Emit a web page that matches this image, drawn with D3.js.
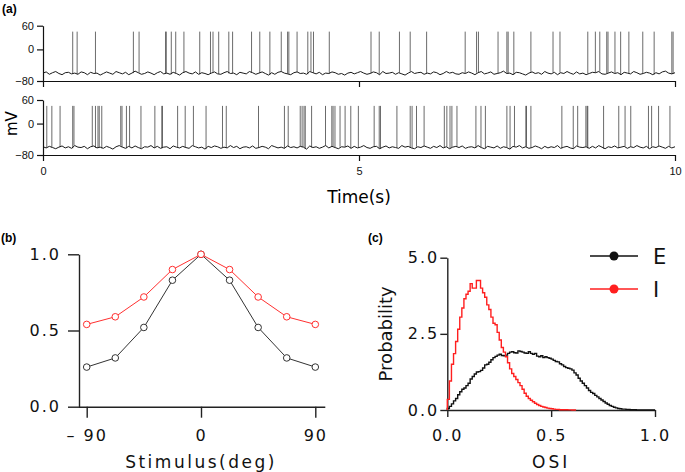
<!DOCTYPE html>
<html><head><meta charset="utf-8">
<script src="https://cdn.jsdelivr.net/npm/d3@7/dist/d3.min.js"></script>
<style>
body{margin:0;background:#fff;}
svg{display:block;}
</style></head>
<body><svg id="chart" width="685" height="472"></svg>
<script>
// ---------- DATA ----------
// Panel (a): spike times (s) and sub-threshold membrane voltage samples (mV)
const traceDuration = 10;
const spikePeak = 45;
const spikeTimesTop = [0.47,0.54,0.83,1.43,1.52,1.94,1.95,2.03,2.10,2.23,2.48,2.65,2.69,2.78,2.94,3.00,3.30,3.43,3.59,3.77,3.87,3.89,4.02,4.19,4.24,4.28,4.53,5.19,5.32,5.64,5.81,6.07,6.68,6.86,6.89,7.20,7.34,7.36,7.45,7.72,8.07,8.18,8.62,8.74,8.81,8.92,8.94,9.05,9.14,9.27,9.49,9.67,9.95,9.97];
const spikeTimesBottom = [0.06,0.14,0.27,0.47,0.49,0.78,0.83,0.87,0.89,0.93,1.23,1.25,1.32,1.37,1.55,1.77,1.88,1.89,2.13,2.25,2.38,2.58,2.84,2.90,3.41,3.82,3.88,4.07,4.10,4.13,4.15,4.25,4.47,4.57,4.59,4.62,4.70,4.78,4.87,4.99,5.24,5.32,5.34,5.60,5.81,5.84,5.91,6.03,6.35,6.39,6.44,6.47,6.55,6.85,6.93,7.00,7.34,7.39,7.46,7.64,7.65,7.72,8.21,8.39,8.46,8.59,8.61,8.62,8.87,9.11,9.21,9.30,9.58,9.63,9.74,9.92];
const vmTop = [-60,-57,-63,-59,-56,-61,-64,-59,-58,-62,-60,-63,-57,-59,-64,-58,-61,-60,-65,-61,
-57,-60,-63,-56,-59,-62,-58,-64,-60,-55,-59,-63,-61,-57,-60,-64,-59,-56,-62,-60,
-63,-58,-61,-65,-59,-56,-60,-62,-57,-63,-59,-61,-64,-60,-57,-62,-63,-59,-56,-61,
-60,-64,-58,-60,-62,-56,-59,-63,-60,-57,-61,-65,-59,-63,-58,-56,-60,-62,-64,-59,
-57,-61,-60,-63,-56,-59,-62,-58,-64,-60,-61,-57,-59,-63,-61,-65,-60,-58,-62,-59,
-56,-60,-63,-61,-57,-59,-64,-56,-61,-60,-58,-63,-59,-62,-65,-60,-56,-61,-59,-58,
-63,-60,-62,-57,-59,-64,-61,-56,-60,-58,-62,-63,-59,-61,-57,-60,-64,-59,-56,-62,
-60,-57,-63,-61,-59,-55,-61,-60,-64,-58,-59,-62,-65,-60,-57,-61,-59,-63,-56,-60,
-62,-58,-64,-59,-61,-56,-60,-63,-57,-62,-60,-64,-61,-58,-59,-56,-62,-63,-60,-57,
-61,-59,-64,-58,-60,-62,-56,-59,-63,-61,-58,-60,-64,-59,-62,-57,-55,-60,-62,-59];
const vmBottom = [-59,-62,-58,-61,-64,-60,-57,-62,-59,-63,-56,-60,-61,-58,-64,-59,-57,-62,-60,-63,
-58,-61,-65,-59,-56,-60,-63,-58,-62,-57,-61,-64,-59,-60,-56,-62,-58,-63,-60,-59,
-64,-57,-60,-62,-58,-61,-63,-56,-59,-62,-60,-65,-58,-61,-57,-59,-63,-60,-62,-56,
-61,-58,-64,-60,-59,-62,-57,-63,-61,-58,-60,-64,-56,-59,-62,-60,-63,-57,-61,-59,
-62,-58,-60,-65,-57,-61,-59,-63,-60,-56,-62,-58,-61,-64,-59,-60,-57,-63,-58,-62,
-60,-56,-61,-63,-59,-58,-64,-60,-57,-62,-59,-61,-63,-56,-60,-58,-62,-64,-59,-61,
-57,-60,-63,-58,-61,-56,-62,-59,-64,-60,-58,-61,-57,-63,-60,-59,-62,-56,-61,-64,
-58,-60,-62,-57,-63,-59,-61,-65,-58,-60,-56,-62,-59,-63,-61,-57,-60,-64,-58,-62,
-59,-61,-56,-63,-60,-58,-62,-64,-57,-60,-61,-59,-63,-58,-62,-56,-60,-64,-59,-61,
-57,-62,-60,-58,-63,-59,-61,-56,-60,-62,-58,-64,-59,-61,-57,-60,-63,-58,-62,-59];
const vmTicks = [-80, 0, 60];
const timeTicks = [0, 5, 10];

// Panel (b): tuning curves
const stimulus = [-90,-67.5,-45,-22.5,0,22.5,45,67.5,90];
const tuningE = [0.26,0.32,0.52,0.83,1.0,0.83,0.52,0.32,0.26];
const tuningI = [0.54,0.59,0.72,0.90,1.0,0.90,0.72,0.59,0.54];
const stimTicks = [-90, 0, 90];
const respTicks = [0, 0.5, 1.0];

// Panel (c): OSI histograms (bin width 0.01, starting at 0)
const osiBinWidth = 0.01;
const osiE = [0.05,0.12,0.2,0.3,0.38,0.5,0.6,0.68,0.72,0.8,
0.88,1.02,1.1,1.18,1.25,1.26,1.3,1.38,1.48,1.5,
1.57,1.65,1.72,1.76,1.8,1.83,1.79,1.78,1.8,1.86,
1.9,1.91,1.88,1.87,1.94,1.92,1.9,1.87,1.86,1.91,
1.86,1.83,1.86,1.77,1.75,1.78,1.72,1.75,1.72,1.7,
1.67,1.63,1.59,1.58,1.52,1.48,1.43,1.39,1.37,1.35,
1.31,1.22,1.15,1.04,0.95,0.88,0.8,0.72,0.64,0.58,
0.54,0.48,0.43,0.38,0.33,0.28,0.23,0.19,0.15,0.12,
0.09,0.07,0.05,0.04,0.03,0.03,0.02,0.02,0.01,0.01,
0.01,0,0,0,0,0,0,0,0,0];
const osiI = [0.35,0.95,1.5,1.85,2.25,2.65,3.05,3.35,3.65,3.8,
3.9,4.15,4.0,4.0,4.25,4.25,4.0,3.85,3.7,3.45,
3.3,3.05,2.85,2.8,2.55,2.3,2.05,1.9,1.75,1.55,
1.35,1.2,1.1,1.0,0.9,0.8,0.68,0.55,0.45,0.38,
0.32,0.27,0.22,0.18,0.15,0.12,0.1,0.08,0.06,0.05,
0.04,0.03,0.02,0.02,0.01,0.01,0.01,0.01,0.005,0.005,0,0];
const osiTicks = [0, 0.5, 1.0];
const probTicks = [0, 2.5, 5.0];
const legendLabels = ["E", "I"];
const seriesColors = ["#111111", "#ff1f1f"];

// ---------- DRAWING ----------
const svg = d3.select("#chart");
const RED_B = "#ff3030";

// Panel labels
[["(a)",2,13],["(b)",1,242],["(c)",368,242]].forEach(([t,x,y]) => {
  svg.append("text").attr("x",x).attr("y",y).text(t)
    .attr("font-family","Liberation Sans, Arial, sans-serif").attr("font-weight","bold").attr("font-size",12);
});

// ----- Panel (a)
const xT = d3.scaleLinear().domain([0, traceDuration]).range([43, 675]);
const yTop = d3.scaleLinear().domain([-80, 60]).range([81, 25.7]);
const yBot = d3.scaleLinear().domain([-80, 60]).range([155, 100]);

function drawTrace(yScale, vm, spikes, showLabels) {
  const g = svg.append("g");
  const dt = traceDuration / (vm.length - 1);
  const line = d3.line().x((d, i) => xT(i * dt)).y(d => yScale(d));
  // spikes
  g.selectAll(null).data(spikes).enter().append("line")
    .attr("x1", d => xT(d)).attr("x2", d => xT(d))
    .attr("y1", d => yScale(vm[Math.min(vm.length - 1, Math.round(d / dt))]))
    .attr("y2", yScale(spikePeak))
    .attr("stroke","#3a3a3a").attr("stroke-width",0.75);
  // sub-threshold trace
  g.append("path").datum(vm)
    .attr("d", line).attr("fill","none").attr("stroke","#1a1a1a")
    .attr("stroke-width",1);
  const ya = g.append("g").attr("transform",`translate(${xT(0)},0)`)
    .call(d3.axisLeft(yScale).tickValues(vmTicks).tickSize(6).tickSizeOuter(0).tickPadding(3));
  ya.selectAll("text").attr("font-family","Liberation Sans, Arial, sans-serif").attr("font-size",11).attr("fill","#111");
  const xa = g.append("g").attr("transform",`translate(0,${yScale(-80)})`)
    .call(d3.axisBottom(xT).tickValues(timeTicks).tickSize(6).tickSizeOuter(0).tickPadding(6)
      .tickFormat(showLabels ? d3.format("d") : () => ""));
  xa.selectAll("text").attr("font-family","Liberation Sans, Arial, sans-serif").attr("font-size",11).attr("fill","#111");
  g.selectAll(".domain, .tick line").attr("stroke","#111").attr("stroke-width",1.2);
}
drawTrace(yTop, vmTop, spikeTimesTop, false);
drawTrace(yBot, vmBottom, spikeTimesBottom, true);

svg.append("text").attr("transform",`translate(17,${yBot(0)}) rotate(-90)`)
  .attr("text-anchor","middle").attr("font-family","DejaVu Sans, sans-serif").attr("font-size",15)
  .text("mV");
svg.append("text").attr("x",xT(5)).attr("y",203).attr("text-anchor","middle")
  .attr("font-family","DejaVu Sans, sans-serif").attr("font-size",17).text("Time(s)");

// ----- Panel (b)
const xB = d3.scaleLinear().domain([-90, 90]).range([86.7, 315.3]);
const yB = d3.scaleLinear().domain([0, 1]).range([406.7, 254.3]);
const gB = svg.append("g");
gB.append("g").attr("transform",`translate(79,0)`)
  .call(d3.axisLeft(yB).tickValues(respTicks).tickSize(11).tickSizeOuter(0).tickPadding(7).tickFormat(d3.format(".1f")));
const xaB = gB.append("g").attr("transform",`translate(0,${yB(0)})`)
  .call(d3.axisBottom(xB).tickValues(stimTicks).tickSize(11).tickSizeOuter(0).tickPadding(12)
    .tickFormat(d => d < 0 ? "\u2013 " + Math.abs(d) : String(d)));
xaB.select(".domain").attr("d", `M${79},0.5H${xB.range()[1] + 10}`);
gB.selectAll(".domain, .tick line").attr("stroke","#222").attr("stroke-width",1.4);
gB.selectAll("text").attr("font-family","DejaVu Sans, sans-serif").attr("font-size",16)
  .attr("letter-spacing","2px").attr("fill","#111");

const tuningSets = [{vals: tuningE, color: "#333333"}, {vals: tuningI, color: RED_B}];
const lineB = d3.line().x((d, i) => xB(stimulus[i])).y(d => yB(d));
tuningSets.forEach(s => {
  gB.append("path").datum(s.vals).attr("d", lineB).attr("fill","none")
    .attr("stroke", s.color).attr("stroke-width",1);
  gB.selectAll(null).data(s.vals).enter().append("circle")
    .attr("cx", (d, i) => xB(stimulus[i])).attr("cy", d => yB(d)).attr("r",3.3)
    .attr("fill","white").attr("stroke", s.color).attr("stroke-width",1);
});
gB.append("text").attr("x", xB(0)).attr("y", 468).attr("text-anchor","middle")
  .attr("font-family","DejaVu Sans, sans-serif").attr("font-size",17).attr("letter-spacing","2.5px")
  .attr("fill","#111").text("Stimulus(deg)");

// ----- Panel (c)
const xC = d3.scaleLinear().domain([0, 1]).range([447.3, 655]);
const yC = d3.scaleLinear().domain([0, 5]).range([410, 257.7]);
const gC = svg.append("g");
gC.append("g").attr("transform",`translate(${xC(0)},0)`)
  .call(d3.axisLeft(yC).tickValues(probTicks).tickSize(7).tickSizeOuter(0).tickPadding(1).tickFormat(d3.format(".1f")));
gC.append("g").attr("transform",`translate(0,${yC(0)})`)
  .call(d3.axisBottom(xC).tickValues(osiTicks).tickSize(7).tickSizeOuter(0).tickPadding(13).tickFormat(d3.format(".1f")));
gC.selectAll(".domain, .tick line").attr("stroke","#222").attr("stroke-width",1.4);
gC.selectAll("text").attr("font-family","DejaVu Sans, sans-serif").attr("font-size",16)
  .attr("letter-spacing","2px").attr("fill","#111");

function histPoints(vals) {
  const pts = [{x: 0, y: 0}];
  vals.forEach((v, i) => pts.push({x: i * osiBinWidth, y: v}));
  pts.push({x: vals.length * osiBinWidth, y: 0});
  return pts;
}
const stepLine = d3.line().curve(d3.curveStepAfter).x(d => xC(d.x)).y(d => yC(d.y));
[osiE, osiI].forEach((vals, k) => {
  gC.append("path").datum(histPoints(vals)).attr("d", stepLine).attr("fill","none")
    .attr("stroke", seriesColors[k]).attr("stroke-width",1.4);
});

gC.append("text").attr("x", xC(0.5)).attr("y", 468).attr("text-anchor","middle")
  .attr("font-family","DejaVu Sans, sans-serif").attr("font-size",17).attr("letter-spacing","3px")
  .attr("fill","#111").text("OSI");
gC.append("text").attr("transform",`translate(392,${yC(2.5)}) rotate(-90)`).attr("text-anchor","middle")
  .attr("font-family","DejaVu Sans, sans-serif").attr("font-size",18).attr("fill","#111").text("Probability");

// Legend
const leg = svg.append("g");
legendLabels.forEach((lab, i) => {
  const ly = 256 + i * 33;
  leg.append("line").attr("x1",590).attr("x2",638).attr("y1",ly).attr("y2",ly)
    .attr("stroke", seriesColors[i]).attr("stroke-width",1.5);
  leg.append("circle").attr("cx",614).attr("cy",ly).attr("r",4.5).attr("fill", seriesColors[i]);
  leg.append("text").attr("x",653).attr("y",ly + 7.5).attr("font-family","DejaVu Sans, sans-serif")
    .attr("font-size",21).attr("fill","#111").text(lab);
});
</script></body></html>
